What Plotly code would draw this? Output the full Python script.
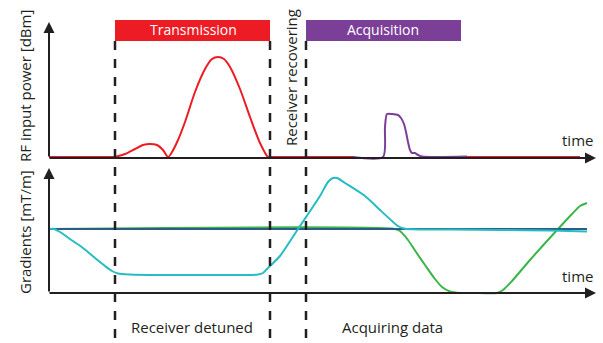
import plotly.graph_objects as go

W, H = 603, 343

# ---- data (time in a.u.; RF power and gradients in a.u.) ----
rf_pre_t = [49, 115]
rf_pre_p = [0, 0]
rf_pulse_t = [115, 125, 135, 143, 150, 157, 163, 168, 172, 178, 185, 195, 205, 212, 218, 224, 230, 240, 250, 260, 268, 270, 354]
rf_pulse_p = [0, 3, 8, 12, 13, 12, 7, 0, 5, 17, 35, 65, 88, 98, 100, 98, 90, 68, 40, 14, 0, 0, 0]
acq_t = [353, 383, 385, 387, 392, 398, 401, 404, 406, 408, 410, 412, 415, 418, 422, 467]
acq_p = [0, 0, 30, 43, 43, 42, 39, 33, 25, 15, 7, 4, 4, 2, 0.5, 0.5]
rf_post_t = [467, 580]
rf_post_p = [0, 0]

gz_t = [49, 587]
gz_v = [0, 0]
gc_t = [49, 54, 60, 70, 83, 95, 105, 112, 118, 130, 160, 200, 240, 258, 263, 266, 270, 280, 298, 320, 328, 333, 337, 345, 365, 380, 392, 398, 404, 412, 450, 500, 550, 587]
gc_v = [0, 0, -3, -10, -19, -29, -37, -42, -44.5, -45.5, -46, -46, -46, -45.5, -44, -41, -37, -27, 0, 33, 47, 51, 51, 46, 33, 19, 8, 3, 0.5, -0.3, -0.5, -1, -1.5, -2.5]
gg_t = [49, 395, 400, 408, 416, 425, 435, 442, 450, 460, 480, 497, 503, 512, 530, 558, 572, 580, 587]
gg_v = [0, 0, -2, -11, -23, -36, -50, -58, -62.5, -64, -64, -64, -61, -52, -31, 0, 15, 23, 26]

RED = "#ed1c24"
PURPLE = "#7b3f98"
CYAN = "#27bcc2"
GREEN = "#3ab54a"
BLUE = "#2b5d86"
BLACK = "#231f20"
FONT = "Open Sans"

fig = go.Figure()

def add(t, v, color, yax, width=2):
    fig.add_trace(go.Scatter(x=t, y=v, mode="lines", yaxis=yax,
                             line=dict(color=color, width=width, shape="spline", smoothing=0.7),
                             hoverinfo="skip", showlegend=False))

add(rf_pre_t, rf_pre_p, RED, "y")
add(rf_pulse_t, rf_pulse_p, RED, "y")
add(acq_t, acq_p, PURPLE, "y")
add(rf_post_t, rf_post_p, RED, "y")

add(gg_t, gg_v, GREEN, "y2")
add(gz_t, gz_v, BLUE, "y2", width=2)
add(gc_t, gc_v, CYAN, "y2")

def py(p):
    return 1 - p / H

shapes = []
# bars
shapes.append(dict(type="rect", xref="x", yref="paper", x0=115, x1=270, y0=py(41), y1=py(20),
                   fillcolor=RED, line=dict(width=0), layer="below"))
shapes.append(dict(type="rect", xref="x", yref="paper", x0=306, x1=461, y0=py(41), y1=py(20),
                   fillcolor=PURPLE, line=dict(width=0), layer="below"))
# dashed lines
for xx in [115, 270, 306]:
    shapes.append(dict(type="line", xref="x", yref="paper", x0=xx, x1=xx, y0=py(41), y1=0,
                       line=dict(color=BLACK, width=2.5, dash="9px,9px")))

ann = []
def arrow(x0, y0, x1, y1, yref):
    ann.append(dict(x=x1, y=y1, ax=x0, ay=y0, xref="x", yref=yref, axref="x", ayref=yref,
                    showarrow=True, arrowhead=2, arrowsize=1.1, arrowwidth=2,
                    arrowcolor=BLACK, text="", standoff=0, startstandoff=0))

arrow(49, -1, 49, 135, "y")
arrow(48, -1, 596, -1, "y")
arrow(49, -64, 49, 61, "y2")
arrow(48, -64, 596, -64, "y2")

def text(x, ypx, s, size=15, color=BLACK, angle=0):
    ann.append(dict(x=x, y=py(ypx), xref="x", yref="paper", text=s, showarrow=False,
                    textangle=angle, font=dict(family=FONT, size=size, color=color),
                    xanchor="center", yanchor="middle"))

text(193, 30, "Transmission", size=14, color="white")
text(383, 30, "Acquisition", size=14, color="white")
text(577, 140, "time")
text(577, 276, "time")
text(192, 327, "Receiver detuned")
text(392, 327, "Acquiring data")
text(25, 86, "RF input power [dBm]", angle=-90)
text(25, 232, "Gradients [mT/m]", angle=-90)
text(291, 78, "Receiver recovering", angle=-90)

fig.update_layout(
    width=W, height=H, margin=dict(l=0, r=0, t=0, b=0),
    paper_bgcolor="white", plot_bgcolor="white",
    xaxis=dict(range=[0, W], visible=False, fixedrange=True),
    yaxis=dict(range=[-(H - 157), 157], visible=False, domain=[0, 1], fixedrange=True),
    yaxis2=dict(range=[-(H - 229), 229], visible=False, overlaying="y", fixedrange=True),
    shapes=shapes, annotations=ann,
)

fig.write_html("out.html", config={"displayModeBar": False, "staticPlot": True},
               post_script="document.body.style.margin='0px';document.body.style.overflow='hidden';")
